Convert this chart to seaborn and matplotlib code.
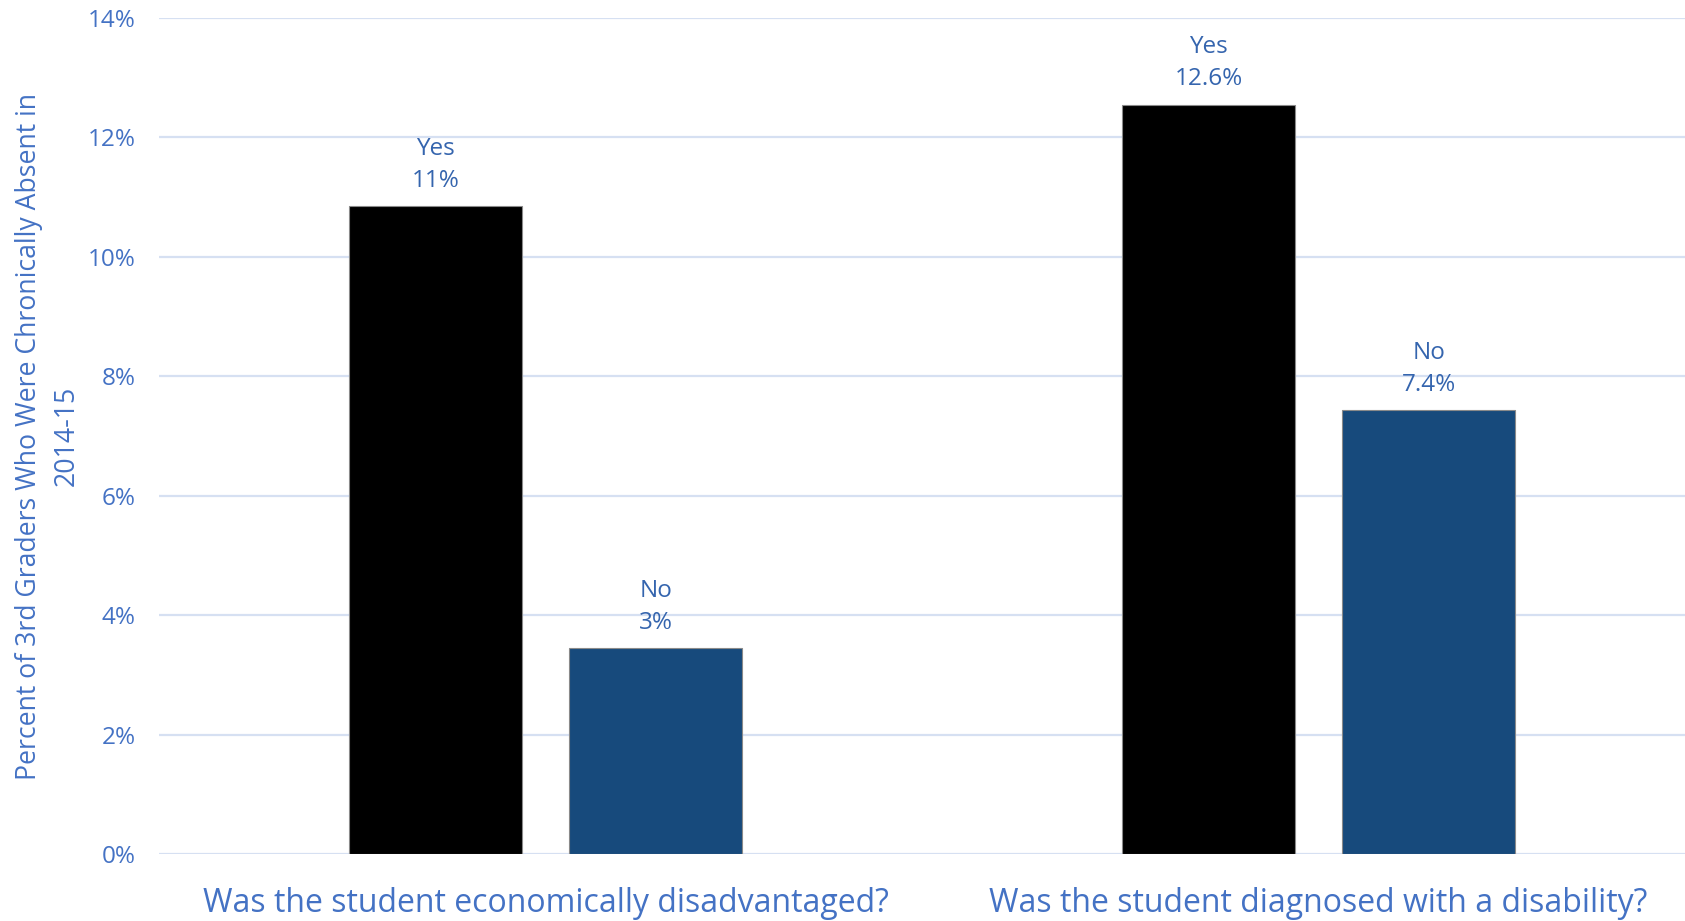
import pandas as pd
import numpy as np

import matplotlib
matplotlib.use("Agg")
import matplotlib.pyplot as plt
import seaborn as sns

# =====================================================
# DATA
# =====================================================

questions = [
    "Was the student economically disadvantaged?",
    "Was the student diagnosed with a disability?"
]

answers = ["Yes", "No"]

yes_values = [10.85, 12.55]
no_values = [3.45, 7.43]

yes_labels = ["11%", "12.6%"]
no_labels = ["3%", "7.4%"]

y_ticks = [0, 2, 4, 6, 8, 10, 12, 14]

# =====================================================
# SETTINGS
# =====================================================

sns.set_theme(style="white")
plt.rcParams["font.family"] = ["Open Sans", "DejaVu Sans"]

TICK_BLUE = "#4472C4"
LABEL_BLUE = "#3565AE"
GRID = "#D6E0F2"

df = pd.DataFrame({
    "question": questions * 2,
    "answer": ["Yes"] * len(questions) + ["No"] * len(questions),
    "value": yes_values + no_values
})

# =====================================================
# PLOT
# =====================================================

fig = plt.figure(figsize=(16.85, 9.21), dpi=100)
ax = fig.add_axes([0.0944, 0.0727, 0.9176, 0.9078])

sns.barplot(
    data=df,
    x="question",
    y="value",
    hue="answer",
    hue_order=answers,
    palette=["#000000", "#174A7C"],
    saturation=1,
    width=0.57,
    gap=0.214,
    edgecolor="#8a8a8a",
    linewidth=0.8,
    legend=False,
    ax=ax,
    zorder=3
)

label_sets = [yes_labels, no_labels]
for container, answer, labels in zip(ax.containers, answers, label_sets):
    ax.bar_label(
        container,
        labels=[f"{answer}\n{lab}" for lab in labels],
        padding=9.5,
        fontsize=17.5,
        color=LABEL_BLUE,
        linespacing=1.45
    )

ax.set_ylim(0, 14)
ax.set_xlim(-0.5, 1.5)
ax.set_yticks(y_ticks)
ax.set_yticklabels([f"{t}%" for t in y_ticks])

ax.yaxis.grid(True, color=GRID, linewidth=1.6, zorder=0)
ax.set_axisbelow(True)

for s in ax.spines.values():
    s.set_visible(False)

ax.tick_params(axis="y", length=0, pad=17, labelsize=17.5, labelcolor=TICK_BLUE)
ax.tick_params(axis="x", length=0, pad=24, labelsize=23, labelcolor=TICK_BLUE)

ax.set_xlabel("")
ax.set_ylabel(
    "Percent of 3rd Graders Who Were Chronically Absent in\n2014-15",
    fontsize=19.2,
    color=TICK_BLUE,
    linespacing=1.45,
    labelpad=5
)

fig.savefig("out.png", dpi=100)
